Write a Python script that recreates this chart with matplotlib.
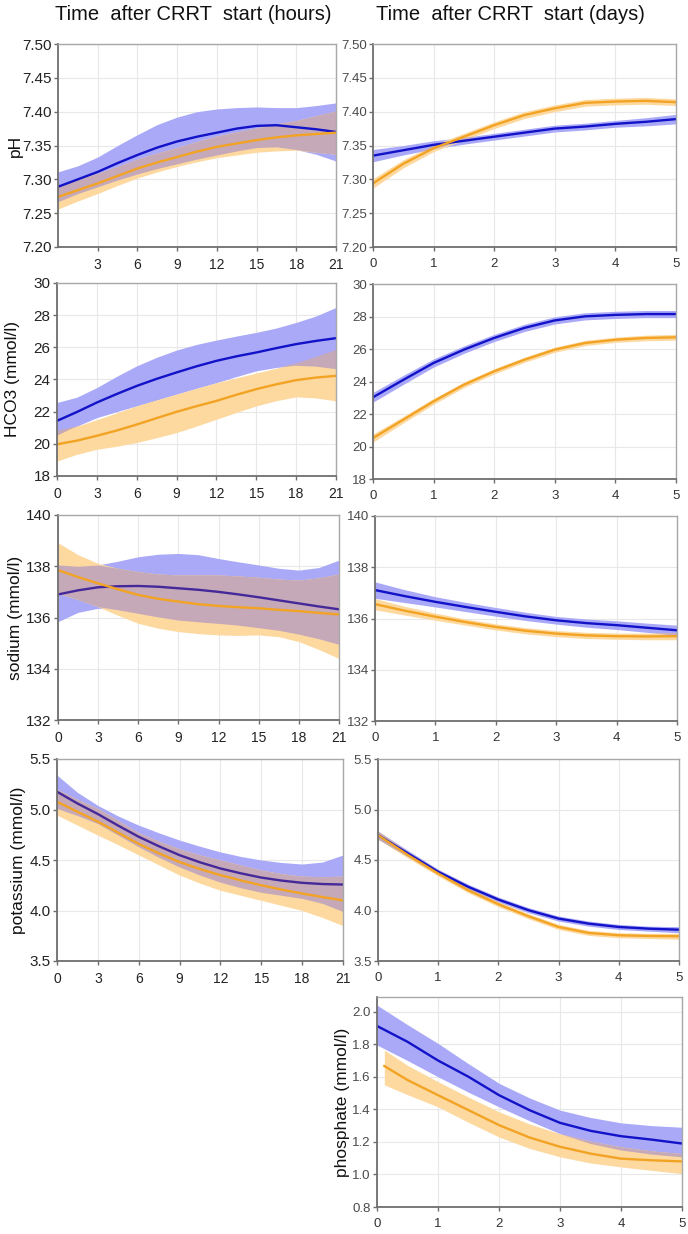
import numpy as np
import matplotlib
matplotlib.use("Agg")
import matplotlib.pyplot as plt
from matplotlib.ticker import FormatStrFormatter

plt.rcParams["font.family"] = ["Liberation Sans", "DejaVu Sans"]

# ---- data: hours panels (x every 1.5 h) ----
hours = [0, 1.5, 3, 4.5, 6, 7.5, 9, 10.5, 12, 13.5, 15, 16.5, 18, 19.5, 21]

ph_h_blue = [7.289, 7.300, 7.311, 7.324, 7.336, 7.347, 7.356, 7.363, 7.369,
             7.375, 7.379, 7.380, 7.377, 7.374, 7.370]
ph_h_blue_hi = [7.311, 7.320, 7.333, 7.350, 7.366, 7.381, 7.392, 7.400, 7.404,
                7.406, 7.407, 7.406, 7.406, 7.409, 7.413]
ph_h_blue_lo = [7.267, 7.279, 7.289, 7.299, 7.308, 7.316, 7.323, 7.330, 7.336,
                7.342, 7.347, 7.348, 7.344, 7.337, 7.327]
ph_h_orange = [7.274, 7.284, 7.294, 7.305, 7.316, 7.325, 7.333, 7.341, 7.348,
               7.353, 7.358, 7.362, 7.365, 7.367, 7.369]
ph_h_orange_hi = [7.292, 7.300, 7.309, 7.319, 7.330, 7.339, 7.347, 7.356, 7.364,
                  7.370, 7.376, 7.382, 7.387, 7.394, 7.401]
ph_h_orange_lo = [7.256, 7.268, 7.279, 7.291, 7.302, 7.311, 7.319, 7.326, 7.332,
                  7.336, 7.340, 7.342, 7.343, 7.340, 7.337]

hco3_h_blue = [21.43, 21.98, 22.57, 23.10, 23.60, 24.04, 24.44, 24.82, 25.16,
               25.44, 25.68, 25.95, 26.20, 26.40, 26.57]
hco3_h_blue_hi = [22.57, 22.90, 23.50, 24.20, 24.85, 25.38, 25.83, 26.18, 26.45,
                  26.70, 26.93, 27.20, 27.55, 27.95, 28.48]
hco3_h_blue_lo = [20.50, 21.10, 21.63, 22.00, 22.36, 22.72, 23.09, 23.45, 23.80,
                  24.18, 24.54, 24.75, 24.85, 24.80, 24.64]
hco3_h_orange = [19.97, 20.20, 20.50, 20.83, 21.20, 21.60, 21.99, 22.34, 22.67,
                 23.05, 23.40, 23.70, 23.96, 24.12, 24.23]
hco3_h_orange_hi = [20.80, 21.10, 21.50, 21.93, 22.36, 22.73, 23.09, 23.45, 23.80,
                    24.10, 24.40, 24.70, 25.00, 25.40, 25.83]
hco3_h_orange_lo = [18.93, 19.35, 19.66, 19.85, 20.08, 20.38, 20.70, 21.10, 21.53,
                    21.95, 22.36, 22.68, 22.92, 22.85, 22.67]

na_h_blue = [136.90, 137.06, 137.18, 137.22, 137.23, 137.20, 137.14, 137.08, 137.00,
             136.90, 136.79, 136.67, 136.55, 136.43, 136.32]
na_h_blue_hi = [138.05, 138.00, 138.05, 138.20, 138.37, 138.47, 138.50, 138.45, 138.30,
                138.17, 138.05, 137.92, 137.85, 137.95, 138.24]
na_h_blue_lo = [135.84, 136.20, 136.36, 136.30, 136.16, 136.02, 135.90, 135.83, 135.77,
                135.70, 135.60, 135.50, 135.35, 135.17, 134.95]
na_h_orange = [137.85, 137.58, 137.33, 137.10, 136.88, 136.73, 136.62, 136.52, 136.45,
               136.40, 136.36, 136.30, 136.25, 136.18, 136.12]
na_h_orange_hi = [138.92, 138.45, 138.11, 137.92, 137.79, 137.70, 137.66, 137.66, 137.66,
                  137.62, 137.57, 137.50, 137.46, 137.55, 137.70]
na_h_orange_lo = [136.94, 136.70, 136.42, 136.08, 135.77, 135.58, 135.45, 135.37, 135.32,
                  135.30, 135.32, 135.25, 135.06, 134.75, 134.40]

k_h_blue = [5.176, 5.060, 4.955, 4.840, 4.730, 4.635, 4.548, 4.477, 4.416,
            4.368, 4.326, 4.296, 4.274, 4.262, 4.257]
k_h_blue_hi = [5.34, 5.17, 5.04, 4.935, 4.845, 4.768, 4.697, 4.636, 4.58,
               4.535, 4.50, 4.475, 4.46, 4.48, 4.55]
k_h_blue_lo = [5.01, 4.94, 4.86, 4.745, 4.63, 4.525, 4.43, 4.35, 4.28,
               4.225, 4.18, 4.15, 4.12, 4.07, 3.99]
k_h_orange = [5.077, 4.978, 4.880, 4.770, 4.660, 4.565, 4.480, 4.410, 4.350,
              4.298, 4.250, 4.207, 4.168, 4.133, 4.100]
k_h_orange_hi = [5.20, 5.10, 5.01, 4.89, 4.77, 4.685, 4.61, 4.55, 4.50,
                 4.45, 4.40, 4.365, 4.34, 4.335, 4.34]
k_h_orange_lo = [4.945, 4.845, 4.746, 4.65, 4.55, 4.45, 4.35, 4.27, 4.20,
                 4.15, 4.10, 4.05, 4.00, 3.93, 3.85]

# ---- data: days panels (x every half day) ----
days = [0, 0.5, 1, 1.5, 2, 2.5, 3, 3.5, 4, 4.5, 5]

ph_d_blue = [7.335, 7.343, 7.351, 7.357, 7.363, 7.369, 7.375, 7.378, 7.382, 7.385, 7.389]
ph_d_blue_ci = [0.009, 0.007, 0.006, 0.005, 0.005, 0.005, 0.005, 0.005, 0.005, 0.006, 0.007]
ph_d_orange = [7.294, 7.323, 7.346, 7.363, 7.380, 7.395, 7.405, 7.413, 7.415, 7.416, 7.414]
ph_d_orange_ci = [0.007, 0.006, 0.005, 0.005, 0.005, 0.005, 0.005, 0.005, 0.005, 0.005, 0.005]

hco3_d_blue = [23.03, 24.10, 25.14, 25.96, 26.68, 27.30, 27.76, 28.01, 28.10, 28.15, 28.15]
hco3_d_blue_ci = [0.30, 0.28, 0.25, 0.23, 0.22, 0.22, 0.22, 0.22, 0.22, 0.22, 0.22]
hco3_d_orange = [20.52, 21.65, 22.78, 23.80, 24.63, 25.34, 25.96, 26.37, 26.57, 26.68, 26.72]
hco3_d_orange_ci = [0.25, 0.20, 0.18, 0.17, 0.16, 0.16, 0.16, 0.16, 0.16, 0.17, 0.18]

na_d_blue = [137.11, 136.87, 136.65, 136.45, 136.26, 136.08, 135.93, 135.82, 135.74, 135.64, 135.54]
na_d_blue_ci = [0.32, 0.25, 0.20, 0.18, 0.17, 0.16, 0.15, 0.16, 0.17, 0.18, 0.20]
na_d_orange = [136.56, 136.30, 136.07, 135.86, 135.67, 135.52, 135.41, 135.34, 135.31, 135.30, 135.31]
na_d_orange_ci = [0.22, 0.17, 0.14, 0.12, 0.12, 0.12, 0.12, 0.12, 0.12, 0.13, 0.14]

k_d_blue = [4.746, 4.564, 4.383, 4.234, 4.108, 4.003, 3.920, 3.870, 3.837, 3.820, 3.810]
k_d_blue_ci = [0.04, 0.03, 0.025, 0.025, 0.025, 0.025, 0.025, 0.025, 0.025, 0.025, 0.03]
k_d_orange = [4.746, 4.548, 4.366, 4.200, 4.062, 3.943, 3.837, 3.778, 3.755, 3.748, 3.745]
k_d_orange_ci = [0.04, 0.03, 0.025, 0.025, 0.025, 0.025, 0.025, 0.025, 0.025, 0.025, 0.03]

po4_days_orange = [0.12, 0.5, 1, 1.5, 2, 2.5, 3, 3.5, 4, 4.5, 5]
po4_blue = [1.912, 1.815, 1.700, 1.600, 1.487, 1.395, 1.317, 1.268, 1.235, 1.214, 1.190]
po4_blue_hi = [2.04, 1.92, 1.805, 1.68, 1.56, 1.47, 1.395, 1.35, 1.317, 1.30, 1.29]
po4_blue_lo = [1.795, 1.70, 1.60, 1.505, 1.415, 1.33, 1.25, 1.19, 1.15, 1.125, 1.108]
po4_orange = [1.666, 1.580, 1.487, 1.395, 1.303, 1.227, 1.170, 1.128, 1.097, 1.087, 1.080]
po4_orange_hi = [1.764, 1.67, 1.57, 1.475, 1.385, 1.31, 1.25, 1.205, 1.17, 1.145, 1.128]
po4_orange_lo = [1.55, 1.49, 1.415, 1.32, 1.23, 1.16, 1.108, 1.07, 1.046, 1.025, 1.005]

BLUE_BAND = "#a9a9f8"
ORANGE_BAND = "#fdd9a0"
OVERLAP = "#c5a9b8"
BLUE = "#1212c8"
BLUE_DARK = "#45289a"
ORANGE = "#f2a324"

W, H = 688, 1234
fig = plt.figure(figsize=(W / 100, H / 100), dpi=100)


def rect(x0, x1, top, bottom):
    return [x0 / W, 1 - bottom / H, (x1 - x0) / W, (bottom - top) / H]


def draw(box, xb, yb, lob, hib, xo, yo, loo, hio, ylim, yticks, fmt, xticks,
         xlim, ylabel=None, label_px=None, blue_col=BLUE, right=False):
    ax = fig.add_axes(rect(*box))
    xb, yb, lob, hib = map(np.asarray, (xb, yb, lob, hib))
    xo, yo, loo, hio = map(np.asarray, (xo, yo, loo, hio))
    ax.fill_between(xb, lob, hib, color=BLUE_BAND, lw=0)
    ax.fill_between(xo, loo, hio, color=ORANGE_BAND, lw=0)
    # overlap of the two bands on the shared x positions
    xc, ib, io = np.intersect1d(xb, xo, return_indices=True)
    top = np.minimum(hib[ib], hio[io])
    bot = np.maximum(lob[ib], loo[io])
    ax.fill_between(xc, bot, top, where=top > bot, interpolate=True,
                    color=OVERLAP, lw=0)
    ax.plot(xb, yb, color=blue_col, lw=1.7, solid_joinstyle="round")
    ax.plot(xo, yo, color=ORANGE, lw=1.7, solid_joinstyle="round")

    ax.set_xlim(*xlim)
    ax.set_ylim(*ylim)
    ax.set_xticks(xticks)
    ax.set_yticks(yticks)
    ax.yaxis.set_major_formatter(FormatStrFormatter(fmt))
    ax.grid(True, color="#e8e8e8", lw=0.8)
    ax.set_axisbelow(True)
    for s in ["left", "bottom"]:
        ax.spines[s].set_color("#6e6e6e")
        ax.spines[s].set_linewidth(1.3)
    for s in ["top", "right"]:
        ax.spines[s].set_color("#a8a8a8")
        ax.spines[s].set_linewidth(1.0)
    ax.tick_params(direction="out", length=3, width=1, color="#6e6e6e", pad=1.5)
    if right:
        ax.tick_params(axis="y", labelsize=9.5, labelcolor="#4a4a4a")
        ax.tick_params(axis="x", labelsize=9.5, labelcolor="#333333", pad=5)
    else:
        ax.tick_params(axis="y", labelsize=11, labelcolor="#222222")
        ax.tick_params(axis="x", labelsize=10, labelcolor="#222222", pad=5)
    if ylabel:
        ax.set_ylabel(ylabel, fontsize=12.5, color="#111111")
        ax.yaxis.set_label_coords((label_px - box[0]) / (box[1] - box[0]), 0.5)
    return ax


hx = (0, 21)
dx = (0, 5)

# row 1: pH
draw((58, 336, 44, 247), hours, ph_h_blue, ph_h_blue_lo, ph_h_blue_hi,
     hours, ph_h_orange, ph_h_orange_lo, ph_h_orange_hi,
     (7.20, 7.50), np.arange(7.20, 7.501, 0.05), "%.2f", range(3, 22, 3), hx,
     ylabel="pH", label_px=23)
draw((373, 676, 44, 247), days, ph_d_blue,
     np.subtract(ph_d_blue, ph_d_blue_ci), np.add(ph_d_blue, ph_d_blue_ci),
     days, ph_d_orange,
     np.subtract(ph_d_orange, ph_d_orange_ci), np.add(ph_d_orange, ph_d_orange_ci),
     (7.20, 7.50), np.arange(7.20, 7.501, 0.05), "%.2f", range(0, 6), dx,
     right=True)

# row 2: HCO3
draw((57, 336, 283, 476), hours, hco3_h_blue, hco3_h_blue_lo, hco3_h_blue_hi,
     hours, hco3_h_orange, hco3_h_orange_lo, hco3_h_orange_hi,
     (18, 30), range(18, 31, 2), "%d", range(0, 22, 3), hx,
     ylabel="HCO3 (mmol/l)", label_px=20)
draw((373, 676, 284, 479), days, hco3_d_blue,
     np.subtract(hco3_d_blue, hco3_d_blue_ci), np.add(hco3_d_blue, hco3_d_blue_ci),
     days, hco3_d_orange,
     np.subtract(hco3_d_orange, hco3_d_orange_ci), np.add(hco3_d_orange, hco3_d_orange_ci),
     (18, 30), range(18, 31, 2), "%d", range(0, 6), dx, right=True)

# row 3: sodium
draw((58, 339, 515, 720), hours, na_h_blue, na_h_blue_lo, na_h_blue_hi,
     hours, na_h_orange, na_h_orange_lo, na_h_orange_hi,
     (132, 140), range(132, 141, 2), "%d", range(0, 22, 3), hx,
     ylabel="sodium (mmol/l)", label_px=23, blue_col=BLUE_DARK)
draw((375, 677, 516, 721), days, na_d_blue,
     np.subtract(na_d_blue, na_d_blue_ci), np.add(na_d_blue, na_d_blue_ci),
     days, na_d_orange,
     np.subtract(na_d_orange, na_d_orange_ci), np.add(na_d_orange, na_d_orange_ci),
     (132, 140), range(132, 141, 2), "%d", range(0, 6), dx, right=True)

# row 4: potassium
draw((57, 343, 759, 961), hours, k_h_blue, k_h_blue_lo, k_h_blue_hi,
     hours, k_h_orange, k_h_orange_lo, k_h_orange_hi,
     (3.5, 5.5), np.arange(3.5, 5.51, 0.5), "%.1f", range(0, 22, 3), hx,
     ylabel="potassium (mmol/l)", label_px=26, blue_col=BLUE_DARK)
draw((378, 679, 759, 961), days, k_d_blue,
     np.subtract(k_d_blue, k_d_blue_ci), np.add(k_d_blue, k_d_blue_ci),
     days, k_d_orange,
     np.subtract(k_d_orange, k_d_orange_ci), np.add(k_d_orange, k_d_orange_ci),
     (3.5, 5.5), np.arange(3.5, 5.51, 0.5), "%.1f", range(0, 6), dx, right=True)

# row 5: phosphate
draw((377, 682, 997, 1207), days, po4_blue, po4_blue_lo, po4_blue_hi,
     po4_days_orange, po4_orange, po4_orange_lo, po4_orange_hi,
     (0.8, 2.09), np.arange(0.8, 2.01, 0.2), "%.1f", range(0, 6), dx,
     ylabel="phosphate (mmol/l)", label_px=350, right=True)

fig.text(193 / W, 1 - 14 / H, "Time  after CRRT  start (hours)", fontsize=14.5,
         ha="center", va="center", color="#111111")
fig.text(510 / W, 1 - 14 / H, "Time  after CRRT  start (days)", fontsize=14.5,
         ha="center", va="center", color="#111111")

fig.savefig("out.png", dpi=100, facecolor="white")
